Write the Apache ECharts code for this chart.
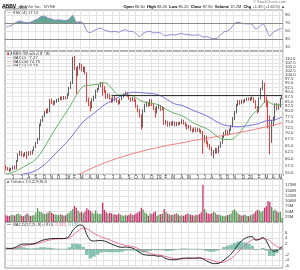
<!DOCTYPE html>
<html><head><meta charset="utf-8">
<script src="https://cdn.jsdelivr.net/npm/echarts@6/dist/echarts.min.js"></script>
<style>html,body{margin:0;padding:0;background:#fff}#c{width:300px;height:270px}</style>
</head><body><div id="c"></div>
<script>
// ---- weekly candles [open, close, low, high] (dividend-adjusted), first week ending 2017-05-05
const candles = [
[57.2,56.5,56.0,57.6],[56.5,56.3,55.7,57.0],[56.3,55.8,55.3,56.8],[55.8,56.3,55.5,56.7],[56.3,57.0,56.0,57.4],
[57.0,56.3,56.0,57.5],[56.3,59.0,56.2,59.4],[59.0,61.5,58.8,61.9],[61.5,62.5,61.0,63.0],[62.5,61.3,60.8,62.8],
[61.3,61.0,60.4,61.9],[61.0,62.0,60.8,62.4],[62.0,61.2,59.8,62.6],[61.2,62.3,61.0,62.7],[62.3,61.8,61.2,62.9],
[61.8,63.0,61.5,63.3],[63.0,64.2,62.8,64.6],[64.2,66.0,64.0,66.4],[66.0,67.2,65.6,68.0],[67.2,73.5,67.0,74.2],
[73.5,75.5,73.0,76.2],[75.5,77.5,75.0,78.0],[77.5,79.5,77.2,80.2],[79.5,80.5,78.8,81.2],[80.5,79.8,79.0,81.5],
[79.8,85.5,79.5,86.2],[85.5,84.5,83.6,86.4],[84.5,83.8,82.9,85.4],[83.8,84.8,83.2,85.5],[84.8,85.5,84.2,86.3],
[85.5,86.0,84.8,86.8],[86.0,86.8,85.6,87.5],[86.8,86.2,85.5,87.6],[86.2,87.0,85.8,87.8],[87.0,86.5,86.0,87.6],
[86.5,88.5,86.2,89.2],[88.5,92.0,88.0,92.8],[92.0,95.0,91.5,96.0],[95.0,108.0,94.5,111.5],[108.0,104.0,103.0,112.0],
[104.0,100.0,89.0,104.8],[100.0,104.5,99.0,105.5],[104.5,106.0,103.2,107.5],[106.0,103.0,102.0,106.8],[103.0,104.0,101.5,105.2],
[104.0,101.0,100.2,105.0],[101.0,85.5,84.5,101.5],[85.5,84.0,82.5,87.0],[84.0,82.0,80.0,85.0],[82.0,86.0,81.5,86.6],
[86.0,87.0,85.0,88.0],[87.0,90.5,86.4,91.3],[90.5,91.5,89.8,92.2],[91.5,93.5,91.0,94.2],[93.5,95.0,92.8,95.8],
[95.0,92.5,88.0,95.6],[92.5,90.5,89.5,93.2],[90.5,87.0,86.2,91.0],[87.0,88.5,86.5,89.2],[88.5,86.5,85.8,89.0],
[86.5,85.0,84.2,87.0],[85.0,87.0,84.5,87.6],[87.0,86.0,85.2,87.8],[86.0,85.0,84.3,86.6],[85.0,84.0,83.2,85.6],
[84.0,86.0,83.6,86.5],[86.0,87.5,85.5,88.0],[87.5,88.5,87.0,89.2],[88.5,89.5,88.0,90.3],[89.5,88.0,87.4,90.0],
[88.0,86.5,85.8,88.5],[86.5,85.5,84.8,87.0],[85.5,86.5,85.0,87.2],[86.5,85.5,84.7,87.0],[85.5,82.5,81.8,86.0],
[82.5,80.5,79.5,83.2],[80.5,78.0,77.0,81.2],[78.0,73.0,71.5,78.5],[73.0,80.0,72.5,80.8],[80.0,83.0,79.5,83.8],
[83.0,84.0,82.2,84.9],[84.0,83.0,82.2,84.6],[83.0,85.5,82.6,86.3],[85.5,83.5,82.6,86.0],[83.5,81.5,80.5,84.0],
[81.5,79.5,77.0,82.0],[79.5,82.0,79.0,82.6],[82.0,82.5,81.2,83.5],[82.5,81.0,80.2,83.2],[81.0,81.5,80.4,82.4],
[81.5,74.5,73.5,82.0],[74.5,75.0,73.8,75.8],[75.0,73.5,72.8,75.5],[73.5,74.5,73.0,75.0],[74.5,73.8,73.2,75.2],
[73.8,74.8,73.4,75.4],[74.8,73.5,72.9,75.2],[73.5,74.5,73.1,75.0],[74.5,74.0,73.4,75.0],[74.0,74.5,73.5,75.1],
[74.5,75.5,74.0,76.2],[75.5,74.5,73.8,76.0],[74.5,73.5,72.8,75.0],[73.5,72.5,71.4,74.0],[72.5,73.0,72.0,73.6],
[73.0,71.5,70.8,73.4],[71.5,71.0,70.2,72.0],[71.0,72.0,70.6,72.5],[72.0,71.0,70.4,72.5],[71.0,71.8,70.6,72.3],
[71.8,71.0,70.3,72.2],[71.0,70.5,69.8,71.6],[70.5,67.5,61.8,71.0],[67.5,68.5,66.2,69.2],[68.5,66.0,65.4,69.0],
[66.0,65.0,64.2,66.8],[65.0,64.0,63.2,65.6],[64.0,62.0,61.0,64.5],[62.0,62.5,60.0,63.2],[62.5,63.2,61.8,64.0],
[63.2,62.5,61.8,64.0],[62.5,64.5,62.0,65.0],[64.5,66.0,64.0,66.5],[66.0,68.5,65.6,69.0],[68.5,69.8,68.0,70.5],
[69.8,70.8,69.2,71.5],[70.8,70.0,69.0,71.4],[70.0,71.5,69.6,72.0],[71.5,73.0,71.0,73.6],[73.0,76.5,72.6,77.2],
[76.5,79.5,75.8,80.2],[79.5,83.0,79.0,83.8],[83.0,85.0,82.5,85.8],[85.0,84.0,83.2,85.6],[84.0,85.2,83.5,85.9],
[85.2,84.8,84.0,85.8],[84.8,85.8,84.3,86.4],[85.8,86.5,85.2,87.0],[86.5,86.0,85.4,87.0],[86.0,86.3,85.2,87.2],
[86.3,86.8,85.6,87.5],[86.8,85.0,84.2,87.2],[85.0,82.0,81.2,85.6],[82.0,80.0,79.0,82.6],[80.0,86.5,79.6,87.2],
[86.5,91.5,86.0,92.3],[91.5,94.5,91.0,96.5],[94.5,85.0,84.2,95.2],[85.0,84.5,82.0,87.5],[84.5,77.0,72.0,85.5],
[77.0,67.0,61.5,78.0],[67.0,75.0,66.0,76.0],[75.0,76.0,73.0,77.5],[76.0,83.0,75.5,84.0],[83.0,81.5,80.4,84.2],
[81.5,82.5,80.8,83.8],[82.5,86.4,81.8,86.8],[86.6,87.8,86.2,88.4]
];
// weekly volume, millions
const volumes = [
32,30,28,35,33,31,38,40,36,30,28,33,41,34,29,31,33,45,66,50,
48,42,38,40,45,52,44,38,36,34,33,37,35,30,32,40,44,52,62,76,
68,55,45,48,42,50,66,58,52,45,40,55,42,38,40,92,58,46,40,44,
42,35,38,33,40,36,32,30,34,31,35,40,33,36,42,45,50,68,60,45,
40,30,42,38,45,50,30,36,38,40,62,48,40,36,33,35,38,42,36,30,
32,30,34,40,38,35,33,30,35,33,38,45,178,62,45,40,38,42,48,44,
36,34,32,30,28,30,33,36,40,55,60,50,40,35,30,33,36,30,28,32,
36,40,50,58,55,48,52,68,75,100,95,72,55,60,50,45,48,19.2
];
// moving averages sampled every 4 weeks (last value = latest week)
const ma20 = [54.6,55.2,56.3,57.7,59.2,62.2,66.8,71.7,76.7,81.8,88.1,93.1,93.8,94.3,95.2,92.2,88.4,88.35,87.9,85.7,
84.3,83.9,82.6,80.5,79.0,77.9,75.9,73.9,72.7,71.1,68.7,67.4,67.4,69.6,73.4,78.2,81.4,84.9,83.5,83.2,83.28];
const ma50 = [53.4,53.8,54.2,54.8,55.5,56.9,59.0,61.7,64.4,67.4,71.2,75.1,77.7,80.4,83.2,85.2,87.1,88.9,89.8,89.7,
89.3,89.0,87.9,85.7,83.7,82.9,81.4,79.9,78.6,77.0,75.0,73.6,73.1,72.8,73.1,73.6,74.3,75.5,75.8,76.9,77.27];
const ma200Start = 40;
const ma200 = [54.0,55.2,56.3,57.4,58.4,59.3,60.2,61.0,61.8,62.5,63.2,63.8,64.4,65.0,65.5,66.0,66.6,67.1,67.6,68.1,
68.6,69.1,69.6,70.2,70.8,71.4,72.1,72.8,73.5,74.3,74.75];
// RSI(14), MACD(12,26,9) sampled every 2 weeks (last value = latest week)
const rsi = [60,62,66,72,75,72,71,72,76,80, 86,87,82,80,77,78,77,76,80,89, 72,73,69,50,46,51,55,57,52,50,
48,49,47,51,53,49,49,43,36,44, 48,49,45,46,45,39,39,41,40,42, 44,41,41,39,40,40,35,36,33,31,
32,40,48,50,57,69,72,69,68,68, 67,55,60,68,55,37,47,52,55,57.5];
const macd = [0.3,0.2,0.3,0.8,1.5,1.8,1.8,1.8,2.0,2.4, 3.0,3.4,3.6,3.8,3.8,3.8,3.8,3.9,4.6,6.8,
8.0,8.7,8.4,5.2,3.2,2.9,3.0,3.1,2.9,2.4, 1.8,1.3,0.8,0.6,0.7,0.6,0.3,-0.3,-1.3,-2.0,
-2.2,-2.3,-2.3,-2.6,-2.6,-3.2,-3.7,-3.9,-3.9,-3.7, -3.4,-3.3,-3.3,-3.3,-3.3,-3.2,-3.6,-4.3,-4.9,-5.3,
-5.3,-4.9,-4.0,-3.0,-1.8,-0.2,1.6,3.0,3.9,4.4, 4.5,3.2,3.5,4.2,3.0,0.5,-0.8,-0.6,0.3,0.97];
const signal = [0.2,0.2,0.2,0.4,0.8,1.2,1.4,1.6,1.7,2.0, 2.4,2.8,3.1,3.4,3.6,3.7,3.7,3.8,4.0,4.9,
6.0,7.0,7.6,7.4,6.6,5.7,5.0,4.4,4.0,3.6, 3.0,2.5,2.0,1.6,1.3,1.1,0.9,0.5,-0.1,-0.7,
-1.2,-1.6,-1.9,-2.1,-2.3,-2.6,-2.9,-3.3,-3.5,-3.6, -3.6,-3.5,-3.4,-3.4,-3.4,-3.3,-3.4,-3.6,-3.9,-4.3,
-4.7,-4.9,-4.7,-4.2,-3.4,-2.4,-1.1,0.3,1.5,2.5, 3.3,3.5,3.5,3.8,3.6,3.0,1.8,0.9,0.5,0.344];
const hist = [0.1,0,0.1,0.4,0.7,0.6,0.4,0.2,0.3,0.4, 0.6,0.6,0.5,0.4,0.2,0.1,0.1,0.1,0.6,1.9,
2.0,1.7,0.8,-2.2,-3.4,-2.8,-2.0,-1.3,-1.1,-1.2, -1.2,-1.2,-1.2,-1.0,-0.6,-0.5,-0.6,-0.8,-1.2,-1.3,
-1.0,-0.7,-0.4,-0.5,-0.3,-0.6,-0.8,-0.6,-0.4,-0.1, 0.2,0.2,0.1,0.1,0.1,0.1,-0.2,-0.7,-1.0,-1.0,
-0.6,0,0.7,1.2,1.6,2.2,2.7,2.7,2.4,1.9, 1.2,-0.3,0,0.4,-0.6,-2.5,-2.6,-1.5,-0.2,0.626];
// axis tick labels
const priceTicks = [55,57.5,60,62.5,65,67.5,70,72.5,75,77.5,80,82.5,85,87.5,90,92.5,95,97.5,100,102.5,105,107.5,110,112.5];
const rsiTicks = [10,30,50,70,90];
const volTicks = [25,50,75,100,125,150,175];
const macdTicks = [-6,-4,-2,2,4,6];
const monthLetters = ['J','F','M','A','M','J','J','A','S','O','N','D'];
const resistance = 88.2;

const N = candles.length;
const dates = [];
const t0 = Date.UTC(2017, 4, 5);
for (let i = 0; i < N; i++) dates.push(new Date(t0 + i * 7 * 864e5).toISOString().slice(0, 10));
const monthStart = (idx) => idx > 0 && dates[idx].slice(5, 7) !== dates[idx - 1].slice(5, 7);
const at = (arr, step, start) => arr.map((v, j) => [Math.min((start || 0) + j * step, N - 1), v]);

const F = 'Liberation Sans, Arial, sans-serif';
const GRID = '#e4e4e4';
const up = candles.map(c => c[1] >= c[0]);

function xAxis(g, showLabel) {
  return {
    type: 'category', gridIndex: g, data: dates, boundaryGap: true,
    axisLine: {show: false},
    axisTick: {show: showLabel, interval: (i) => monthStart(i), length: 1.5, lineStyle: {color: '#888'}},
    axisLabel: {show: showLabel, interval: (i) => monthStart(i), fontSize: 4.5, fontFamily: F, color: '#333', margin: 1.5,
      formatter: (v) => { const m = +v.slice(5, 7); return m === 1 ? v.slice(2, 4) : monthLetters[m - 1]; }},
    splitLine: {show: true, interval: (i) => monthStart(i), lineStyle: {color: GRID, width: 1}}
  };
}
function yLabel(ticks, fmt) {
  return {customValues: ticks, fontSize: 4.3, fontFamily: F, color: '#333', margin: 2, formatter: fmt};
}
function box(value, text, color, bg, fg) {
  return {yAxis: value, lineStyle: {opacity: 0}, label: {show: true, position: 'end', distance: 1, formatter: text,
    fontSize: 4.3, fontFamily: F, color: fg, backgroundColor: bg, borderColor: color, borderWidth: 0.6, padding: [0.5, 1, 0, 1]}};
}

const option = {
  animation: false,
  backgroundColor: '#fff',
  grid: [
    {left: 5, right: 17, top: 10, height: 41, show: true, borderColor: '#999', borderWidth: 1},
    {left: 5, right: 17, top: 51, height: 123, show: true, borderColor: '#999', borderWidth: 1},
    {left: 5, right: 17, top: 179, height: 43, show: true, borderColor: '#999', borderWidth: 1},
    {left: 5, right: 17, top: 222, height: 46, show: true, borderColor: '#999', borderWidth: 1}
  ],
  xAxis: [xAxis(0, false), xAxis(1, true), xAxis(2, false), xAxis(3, false)],
  yAxis: [
    {type: 'value', gridIndex: 0, position: 'right', min: 0, max: 102.5,
      axisLine: {show: false}, axisTick: {show: false, customValues: rsiTicks},
      axisLabel: yLabel(rsiTicks), splitLine: {show: true, lineStyle: {color: GRID}}},
    {type: 'log', logBase: 10, gridIndex: 1, position: 'right', min: 54.6, max: 115.5,
      axisLine: {show: false}, axisTick: {show: false, customValues: priceTicks},
      axisLabel: yLabel(priceTicks, (v) => (+v).toFixed(1)), splitLine: {show: true, lineStyle: {color: GRID}}},
    {type: 'value', gridIndex: 2, position: 'right', min: 0, max: 205,
      axisLine: {show: false}, axisTick: {show: false, customValues: volTicks},
      axisLabel: yLabel(volTicks, (v) => v + 'M'), splitLine: {show: true, lineStyle: {color: GRID}}},
    {type: 'value', gridIndex: 3, position: 'right', min: -6.9, max: 9.8,
      axisLine: {show: false}, axisTick: {show: false, customValues: macdTicks},
      axisLabel: yLabel(macdTicks), splitLine: {show: true, lineStyle: {color: GRID}}}
  ],
  series: [
    // RSI fill above 70
    {type: 'line', xAxisIndex: 0, yAxisIndex: 0, stack: 'rsiFill', data: at(rsi.map(() => 70), 2),
      symbol: 'none', lineStyle: {opacity: 0}, silent: true},
    {type: 'line', xAxisIndex: 0, yAxisIndex: 0, stack: 'rsiFill', data: at(rsi.map(v => Math.max(v, 70) - 70), 2),
      symbol: 'none', lineStyle: {opacity: 0}, areaStyle: {color: '#63a893', opacity: 1}, silent: true},
    {type: 'line', xAxisIndex: 0, yAxisIndex: 0, data: at(rsi, 2), symbol: 'none', smooth: 0.3,
      lineStyle: {color: '#8a8ad0', width: 1},
      markLine: {symbol: 'none', silent: true, animation: false,
        data: [
          {yAxis: 70, lineStyle: {color: '#888', width: 1, type: 'solid'}, label: {show: false}},
          {yAxis: 30, lineStyle: {color: '#888', width: 1, type: 'solid'}, label: {show: false}},
          box(57.5, '57.50', '#8a8ad0', '#fff', '#333')
        ]}},
    // price
    {type: 'candlestick', xAxisIndex: 1, yAxisIndex: 1, data: candles, barWidth: 1.1,
      itemStyle: {color: '#d0d0d0', color0: '#e81010', borderColor: '#3a3a3a', borderColor0: '#e81010', borderWidth: 0.8},
      markLine: {symbol: 'none', silent: true, animation: false,
        data: [
          [{coord: [60, resistance], lineStyle: {color: '#333', width: 1, type: 'solid'}, label: {show: false}}, {coord: [N - 1, resistance]}],
          box(87.8, '87.80', '#000', '#000', '#fff')
        ]}},
    {type: 'line', xAxisIndex: 1, yAxisIndex: 1, data: at(ma20, 4), symbol: 'none', smooth: 0.4,
      lineStyle: {color: '#55aa55', width: 0.9},
      markLine: {symbol: 'none', silent: true, animation: false, data: [box(83.28, '83.28', '#55aa55', '#fff', '#2a7a2a')]}},
    {type: 'line', xAxisIndex: 1, yAxisIndex: 1, data: at(ma50, 4), symbol: 'none', smooth: 0.4,
      lineStyle: {color: '#6363d8', width: 0.9},
      markLine: {symbol: 'none', silent: true, animation: false, data: [box(77.27, '77.27', '#6363d8', '#fff', '#3333aa')]}},
    {type: 'line', xAxisIndex: 1, yAxisIndex: 1, data: at(ma200, 4, ma200Start), symbol: 'none', smooth: 0.4,
      lineStyle: {color: '#f07070', width: 0.9},
      markLine: {symbol: 'none', silent: true, animation: false, data: [box(74.75, '74.75', '#f07070', '#fff', '#c03030')]}},
    // volume
    {type: 'bar', xAxisIndex: 2, yAxisIndex: 2, data: volumes, barWidth: 1.3,
      itemStyle: {color: (p) => up[p.dataIndex] ? '#5c9a5c' : '#c8336e'},
      markLine: {symbol: 'none', silent: true, animation: false, data: [box(19.2, '19.2M', '#5c9a5c', '#fff', '#333')]}},
    // MACD
    {type: 'bar', xAxisIndex: 3, yAxisIndex: 3, data: at(hist, 2), barWidth: 3.6,
      itemStyle: {color: '#86c2b2'}},
    {type: 'line', xAxisIndex: 3, yAxisIndex: 3, data: at(signal, 2), symbol: 'none', smooth: 0.3,
      lineStyle: {color: '#e8668a', width: 0.9},
      markLine: {symbol: 'none', silent: true, animation: false, data: [box(0.344, '0.344', '#e8668a', '#fff', '#c0305a')]}},
    {type: 'line', xAxisIndex: 3, yAxisIndex: 3, data: at(macd, 2), symbol: 'none', smooth: 0.3,
      lineStyle: {color: '#111', width: 0.9},
      markLine: {symbol: 'none', silent: true, animation: false,
        data: [{yAxis: 0, lineStyle: {color: '#999', width: 0.6, type: 'solid'}, label: {show: false}},
               box(0.97, '0.970', '#000', '#000', '#fff')]}}
  ],
  graphic: [
    {type: 'text', left: 2, top: 0.5, style: {text: '{b|ABBV} {n|AbbVie Inc.  NYSE}', fontFamily: F,
      rich: {b: {fontSize: 5, fontWeight: 'bold', fill: '#000', fontFamily: F}, n: {fontSize: 4.3, fill: '#444', fontFamily: F}}}},
    {type: 'text', left: 2, top: 6, style: {text: '11-May-2020', fontSize: 4.3, fill: '#333', fontFamily: F}},
    {type: 'text', right: 14, top: 0.3, style: {text: '© StockCharts.com', fontSize: 3.8, fill: '#777', fontFamily: F}},
    {type: 'text', right: 15, top: 4.6, style: {fontFamily: F, fontSize: 4,
      text: '{b|Open} 86.60  {b|High} 88.40  {b|Low} 86.20  {b|Close} 87.80  {b|Volume} 19.2M  {b|Chg} +1.39 (+1.61%) ▲',
      fill: '#333', rich: {b: {fontSize: 4, fontWeight: 'bold', fill: '#000', fontFamily: F}}}},
    {type: 'text', left: 7, top: 10.6, style: {fontFamily: F, fontSize: 4.2, fill: '#333',
      text: '{m|—} RSI(14) 57.50', rich: {m: {fill: '#8a8ad0', fontSize: 4.2, fontWeight: 'bold'}}}},
    {type: 'text', left: 7, top: 51.8, style: {fontFamily: F, fontSize: 4.2, fill: '#333',
      text: '{m|▮} ABBV (Weekly) 87.80', rich: {m: {fill: '#e81010', fontSize: 4.2}}}},
    {type: 'text', left: 7, top: 55.8, style: {fontFamily: F, fontSize: 4.2, fill: '#333',
      text: '{m|—} MA(50) 77.27', rich: {m: {fill: '#6363d8', fontSize: 4.2, fontWeight: 'bold'}}}},
    {type: 'text', left: 7, top: 59.6, style: {fontFamily: F, fontSize: 4.2, fill: '#333',
      text: '{m|—} MA(200) 74.75', rich: {m: {fill: '#f07070', fontSize: 4.2, fontWeight: 'bold'}}}},
    {type: 'text', left: 7, top: 63.4, style: {fontFamily: F, fontSize: 4.2, fill: '#333',
      text: '{m|—} MA(20) 83.28', rich: {m: {fill: '#55aa55', fontSize: 4.2, fontWeight: 'bold'}}}},
    {type: 'text', left: 7, top: 180, style: {fontFamily: F, fontSize: 4.2, fill: '#333',
      text: '{m|■} Volume 19,229,904', rich: {m: {fill: '#5c9a5c', fontSize: 4.2}}}},
    {type: 'text', left: 7, top: 223, style: {fontFamily: F, fontSize: 4.2, fill: '#333',
      text: '{m|—} MACD(12,26,9) 0.970, {s|0.344}, {h|0.626}',
      rich: {m: {fill: '#111', fontSize: 4.2, fontWeight: 'bold'}, s: {fill: '#e8668a', fontSize: 4.2}, h: {fill: '#5aa090', fontSize: 4.2}}}}
  ]
};
const chart = echarts.init(document.getElementById('c'), null, {renderer: 'canvas'});
chart.setOption(option);
</script>
</body></html>
